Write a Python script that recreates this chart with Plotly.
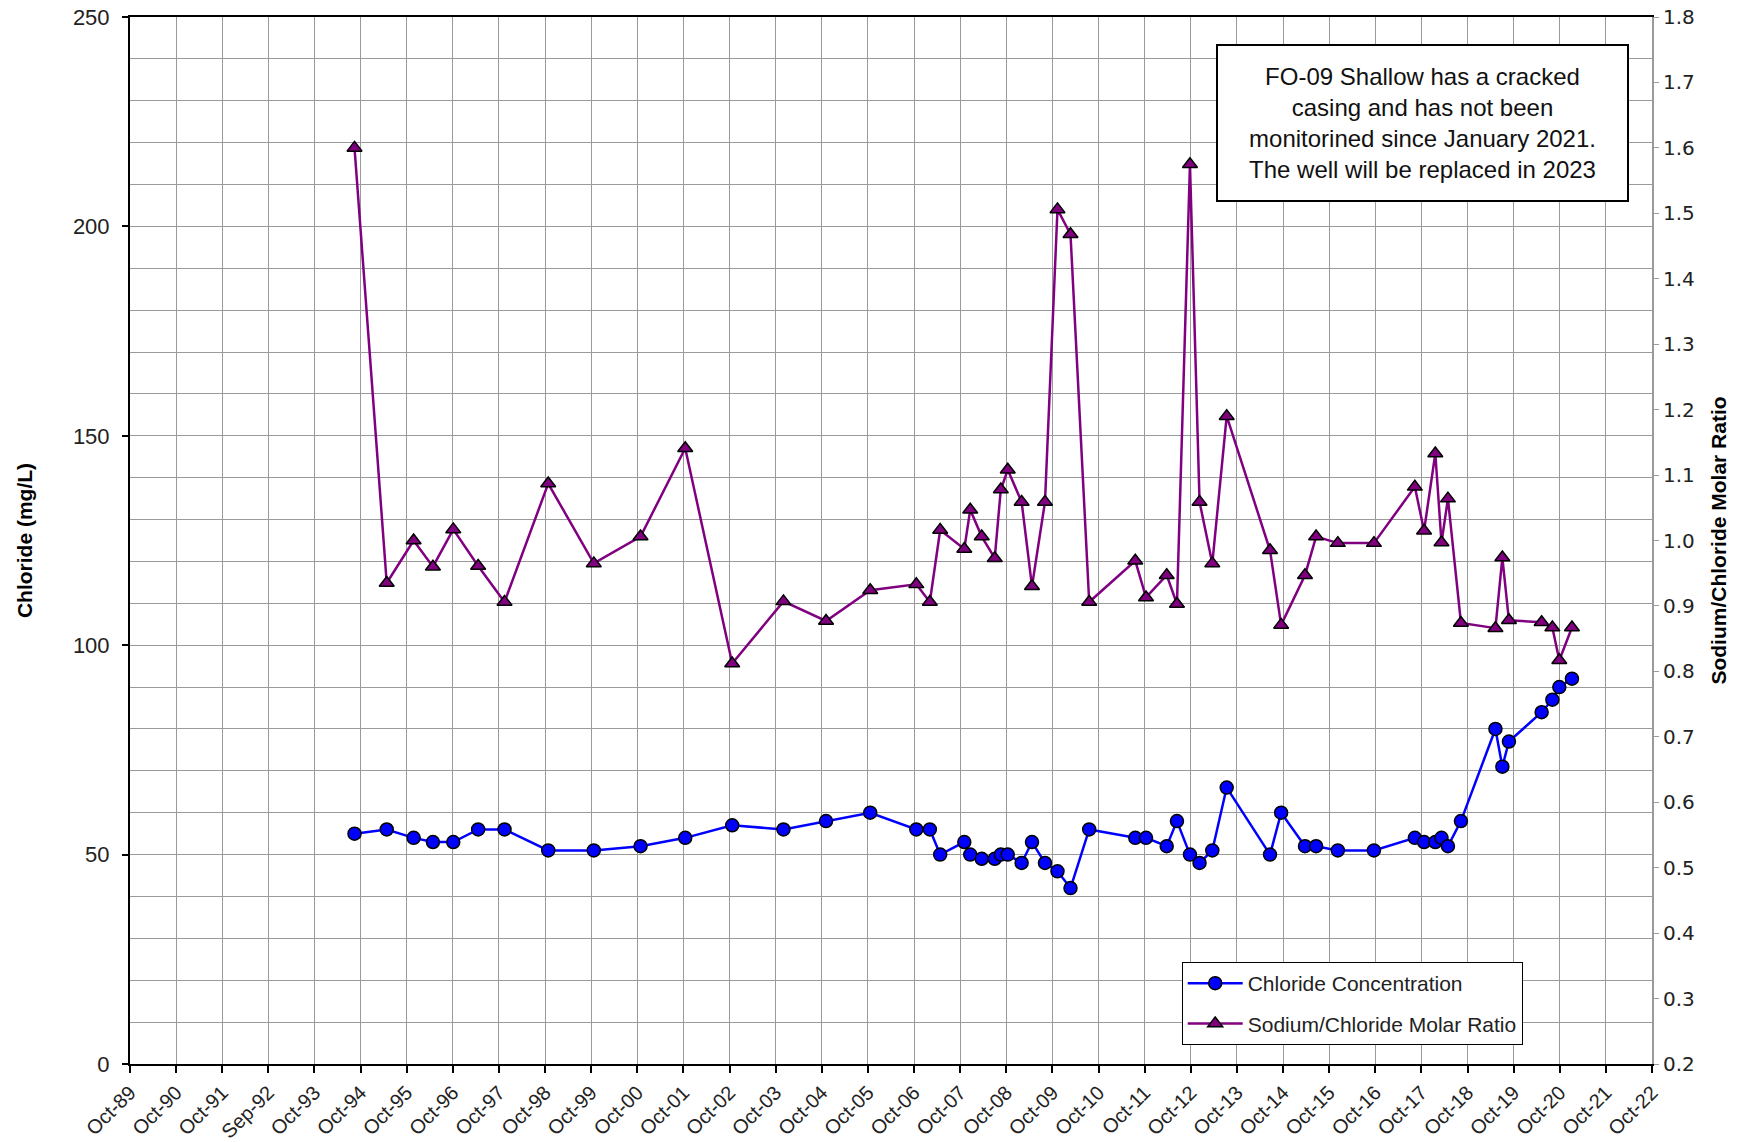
import plotly.graph_objects as go

# ---- data ----
sample_dates = [
    "1994-08-14", "1995-04-26", "1995-11-25", "1996-04-26", "1996-10-04",
    "1997-04-19", "1997-11-14", "1998-10-26", "1999-10-22", "2000-10-26",
    "2001-10-15", "2002-10-22", "2003-12-02", "2004-11-03", "2005-10-19",
    "2006-10-19", "2007-02-03", "2007-04-26", "2007-11-03", "2007-12-20",
    "2008-03-20", "2008-07-01", "2008-08-18", "2008-10-12", "2009-01-30",
    "2009-04-22", "2009-08-03", "2009-11-10", "2010-02-21", "2010-07-19",
    "2011-07-19", "2011-10-12", "2012-03-24", "2012-06-13", "2012-09-24",
    "2012-12-09", "2013-03-20", "2013-07-12", "2014-06-20", "2014-09-16",
    "2015-03-24", "2015-06-20", "2015-12-09", "2016-09-20", "2017-08-10",
    "2017-10-22", "2018-01-19", "2018-03-09", "2018-04-29", "2018-08-10",
    "2019-05-10", "2019-07-04", "2019-08-25", "2020-05-10", "2020-08-03",
    "2020-09-27", "2021-01-05",
]

chloride_mg_l = [
    55, 56, 54, 53, 53, 56, 56, 51, 51, 52,
    54, 57, 56, 58, 60, 56, 56, 50, 53, 50,
    49, 49, 50, 50, 48, 53, 48, 46, 42, 56,
    54, 54, 52, 58, 50, 48, 51, 66, 50, 60,
    52, 52, 51, 51, 54, 53, 53, 54, 52, 58,
    80, 71, 77, 84, 87, 90, 92,
]

na_cl_ratio = [
    1.60, 0.935, 1.00, 0.96, 1.017, 0.961, 0.906, 1.087, 0.965, 1.006,
    1.141, 0.812, 0.907, 0.877, 0.924, 0.933, 0.906, 1.016, 0.987, 1.047,
    1.006, 0.973, 1.078, 1.108, 1.059, 0.930, 1.059, 1.506, 1.468, 0.906,
    0.969, 0.913, 0.947, 0.903, 1.575, 1.059, 0.965, 1.190, 0.985, 0.871,
    0.947, 1.006, 0.996, 0.996, 1.082, 1.015, 1.133, 0.997, 1.064, 0.874,
    0.866, 0.974, 0.878, 0.875, 0.867, 0.817, 0.867,
]

x_tick_dates = [f"{y}-10-01" for y in range(1989, 2023)]
x_tick_labels = [
    "Oct-89", "Oct-90", "Oct-91", "Sep-92", "Oct-93", "Oct-94", "Oct-95",
    "Oct-96", "Oct-97", "Oct-98", "Oct-99", "Oct-00", "Oct-01", "Oct-02",
    "Oct-03", "Oct-04", "Oct-05", "Oct-06", "Oct-07", "Oct-08", "Oct-09",
    "Oct-10", "Oct-11", "Oct-12", "Oct-13", "Oct-14", "Oct-15", "Oct-16",
    "Oct-17", "Oct-18", "Oct-19", "Oct-20", "Oct-21", "Oct-22",
]

left_ticks = [0, 50, 100, 150, 200, 250]

note_text = ("FO-09 Shallow has a cracked<br>casing and has not been<br>"
             "monitorined since January 2021.<br>The well will be replaced in 2023")

FONT = "Liberation Sans, Arial, sans-serif"
GRID = "#9a9a9a"

fig = go.Figure()
fig.add_trace(go.Scatter(
    x=sample_dates, y=chloride_mg_l, name="Chloride Concentration",
    mode="lines+markers", yaxis="y", legendgroup="cl",
    line=dict(color="#0000FF", width=2.5),
    marker=dict(symbol="circle", size=13, color="#0000FF",
                line=dict(color="black", width=1.5)),
))
fig.add_trace(go.Scatter(
    x=sample_dates, y=na_cl_ratio, name="Sodium/Chloride Molar Ratio",
    mode="lines+markers", yaxis="y2", legendgroup="ratio",
    line=dict(color="#800080", width=2.5),
    marker=dict(symbol="triangle-up", size=13, color="#800080",
                line=dict(color="black", width=1.5)),
))

fig.update_layout(
    width=1742, height=1142,
    margin=dict(l=130, r=90, t=17, b=78, autoexpand=False),
    plot_bgcolor="white", paper_bgcolor="white",
    font=dict(family=FONT, color="#222222", size=20),
    showlegend=True,
    legend=dict(
        x=0.691, y=0.0974, xanchor="left", yanchor="top",
        bordercolor="black", borderwidth=1, bgcolor="white",
        font=dict(family=FONT, size=21, color="#222222"),
        traceorder="grouped", tracegroupgap=10, itemwidth=55,
    ),
    xaxis=dict(
        type="date", range=["1989-10-01", "2022-10-01"],
        tickmode="array", tickvals=x_tick_dates, ticktext=x_tick_labels,
        tickangle=-45, tickfont=dict(size=20), automargin=False,
        ticklabeloverflow="allow",
        showgrid=True, gridcolor=GRID, gridwidth=1,
        showline=True, linecolor="black", linewidth=2, mirror=True,
        ticks="outside", ticklen=7, tickwidth=2, tickcolor="black",
        zeroline=False,
    ),
    yaxis=dict(
        range=[0, 250], tickmode="array", tickvals=left_ticks,
        tickfont=dict(size=22), automargin=False, ticklabelstandoff=8,
        ticklabeloverflow="allow",
        showgrid=True, gridcolor=GRID, gridwidth=1,
        minor=dict(dtick=10, showgrid=True, gridcolor=GRID, gridwidth=1),
        showline=True, linecolor="black", linewidth=2,
        ticks="outside", ticklen=6, tickwidth=2, tickcolor="black",
        zeroline=False,
        title=dict(text="<b>Chloride (mg/L)</b>", font=dict(size=21, color="black"),
                   standoff=35),
    ),
    yaxis2=dict(
        overlaying="y", side="right", anchor="x", automargin=False,
        range=[0.2, 1.8], dtick=0.1, tick0=0.2, tickformat=".1f",
        tickfont=dict(size=20, family="DejaVu Sans, sans-serif"),
        ticklabeloverflow="allow",
        showgrid=False, zeroline=False,
        showline=True, linecolor=GRID, linewidth=2,
        ticks="outside", ticklen=5, tickwidth=1, tickcolor=GRID,
        title=dict(text="<b>Sodium/Chloride Molar Ratio</b>",
                   font=dict(size=21, color="black"), standoff=17),
    ),
    annotations=[dict(
        text=note_text, xref="paper", yref="paper", x=0.849, y=0.899,
        xanchor="center", yanchor="middle", showarrow=False, align="center",
        font=dict(family=FONT, size=24, color="#111111"),
        bordercolor="black", borderwidth=2, borderpad=2, bgcolor="white",
        width=405, height=150,
    )],
)

# remove the browser's default 8px body margin so the figure fills the window
fig.write_html("out.html",
               config={"displayModeBar": False},
               post_script="document.body.style.margin='0';"
                           "document.body.style.overflow='hidden';")
